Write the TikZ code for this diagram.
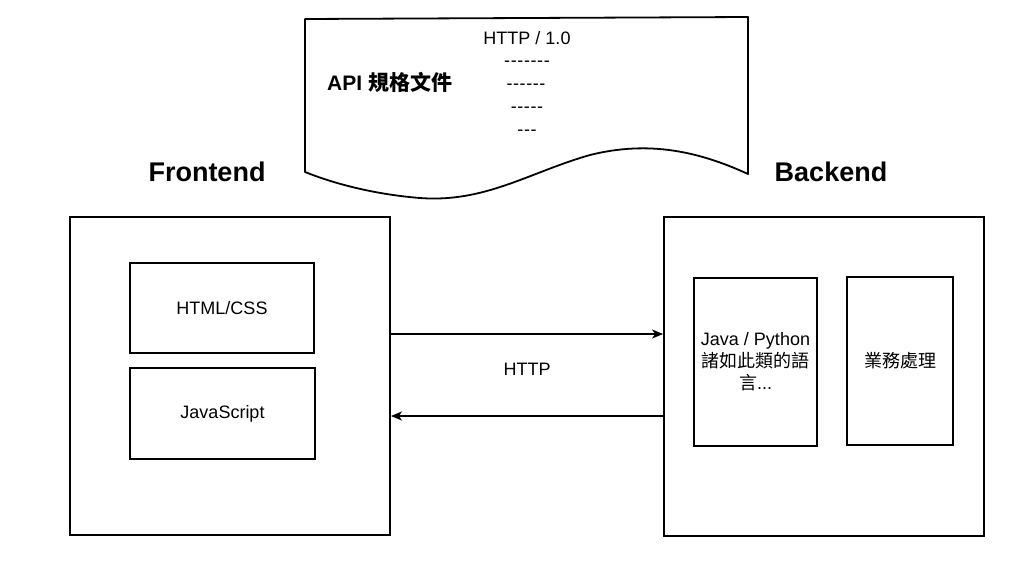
\documentclass[tikz,border=0pt]{standalone}
\usepackage{fontspec}
\setmainfont{Liberation Sans}
\newfontfamily\cjk{Noto Sans CJK TC}
\usetikzlibrary{arrows.meta}
\newcommand\hy{-\kern0.6pt}
\tikzset{
  box/.style={draw=black, line width=1.8pt, rectangle, inner sep=0pt},
  lbl/.style={font=\fontsize{18}{22}\selectfont, inner sep=0pt, align=center},
  title/.style={font=\fontsize{27}{30}\selectfont\bfseries, inner sep=0pt},
  conn/.style={line width=1.3pt, -{Stealth[length=11pt,width=9pt,inset=3pt]}},
}
\begin{document}
\begin{tikzpicture}[x=1pt,y=-1pt]
\useasboundingbox (0,0) rectangle (1024,581);
% document shape
\draw[line width=1.8pt, line join=round] (305,19) -- (748,17) -- (748,174)
  .. controls (700,152) and (650,140) .. (590,155)
  .. controls (530,172) and (485,203) .. (420,198)
  .. controls (370,194) and (330,182) .. (305,172) -- cycle;
\node[lbl] (http10) at (527,38) {HTTP / 1.0};
\node[lbl] (d1) at (527,64) {\hy\hy\hy\hy\hy\hy-};
\node[lbl] (d2) at (526,87) {\hy\hy\hy\hy\hy-};
\node[lbl] (d3) at (527,110) {\hy\hy\hy\hy-};
\node[lbl] (d4) at (527,133) {\hy\hy-};
\node[lbl, font=\fontsize{21}{24}\selectfont\bfseries, anchor=west] (api) at (327,82) {API {\cjk\bfseries 規格文件}};
% titles
\node[title] (ftitle) at (207,172) {Frontend};
\node[title] (btitle) at (831,172) {Backend};
% frontend
\node[box, minimum width=320pt, minimum height=318pt] (front) at (230,376) {};
\node[box, lbl, minimum width=184pt, minimum height=90pt] (html) at (222,308) {HTML/CSS};
\node[box, lbl, minimum width=185pt, minimum height=91pt] (js) at (222.5,413.5) {JavaScript};
% backend
\node[box, minimum width=320pt, minimum height=319pt] (back) at (824,376.5) {};
\node[box, minimum width=123pt, minimum height=168pt] (java) at (755.5,362) {};
\node[lbl] (javat) at (java.center) {Java / Python\\{\cjk 諸如此類的語}\\{\cjk 言}...};
\node[box, lbl, minimum width=106pt, minimum height=168pt] (biz) at (900,361) {\cjk 業務處理};
% connectors
\draw[conn] ([yshift=42pt]front.east) -- ([yshift=42.5pt]back.west);
\draw[conn] ([yshift=-39.5pt]back.west) -- ([yshift=-40pt]front.east);
\node[lbl] (httpl) at (527,369) {HTTP};
\end{tikzpicture}
\end{document}
